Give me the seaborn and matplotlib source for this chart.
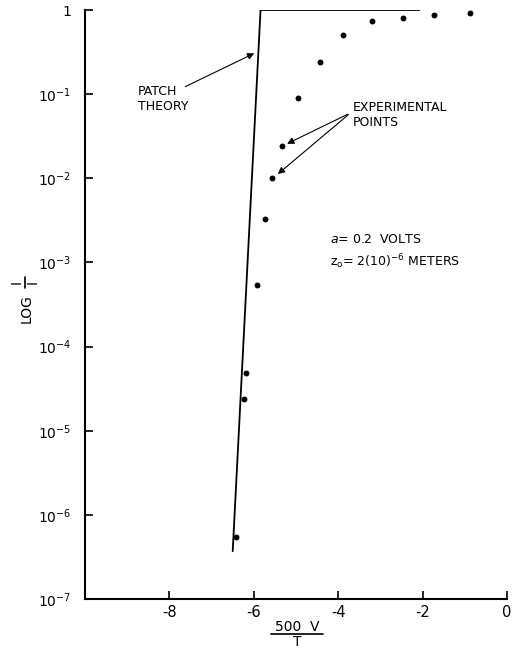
import matplotlib
matplotlib.use("Agg")
import matplotlib.pyplot as plt
from matplotlib.lines import Line2D
import seaborn as sns
import pandas as pd

# Experimental points
exp_x = [-0.87, -1.73, -2.46, -3.19, -3.88, -4.44, -4.96, -5.34, -5.56, -5.74, -5.93, -6.19, -6.24, -6.41]
exp_y = [0.93, 0.87, 0.81, 0.74, 0.50, 0.243, 0.090, 0.0243, 0.0101, 0.0033, 5.4e-4, 4.9e-5, 2.4e-5, 5.5e-7]

# Patch theory curve
theory_x = [-2.08, -5.84, -6.50]
theory_y = [1.0, 1.0, 3.7e-7]

x_ticks = [-8, -6, -4, -2, 0]
x_tick_labels = ["-8", "-6", "-4", "-2", "0"]
y_ticks = [1e-7, 1e-6, 1e-5, 1e-4, 1e-3, 1e-2, 1e-1, 1]
y_tick_labels = [r"$10^{-7}$", r"$10^{-6}$", r"$10^{-5}$", r"$10^{-4}$",
                 r"$10^{-3}$", r"$10^{-2}$", r"$10^{-1}$", "1"]

sns.set_theme(style="ticks")
plt.rcParams['font.family'] = ['DejaVu Sans']
plt.rcParams['mathtext.fontset'] = 'dejavusans'
plt.rcParams['text.color'] = 'black'
plt.rcParams['axes.labelcolor'] = 'black'

W, H = 517, 648
fig = plt.figure(figsize=(W/100, H/100), dpi=100)
ax = fig.add_axes([85/W, 1-599/H, (507-85)/W, (599-10)/H])

exp_df = pd.DataFrame({"x": exp_x, "y": exp_y})
th_df = pd.DataFrame({"x": theory_x, "y": theory_y})

sns.lineplot(data=th_df, x="x", y="y", sort=False, color="black", lw=1.3, ax=ax, estimator=None)
sns.scatterplot(data=exp_df, x="x", y="y", color="black", s=18, edgecolor="black", linewidth=0, ax=ax, zorder=3)

ax.set_yscale("log")
ax.set_xlim(-10, 0)
ax.set_ylim(1e-7, 1)
ax.set_xticks(x_ticks)
ax.set_xticklabels(x_tick_labels, fontsize=10.5)
ax.set_yticks(y_ticks)
ax.set_yticklabels(y_tick_labels, fontsize=10)
ax.yaxis.set_minor_locator(matplotlib.ticker.NullLocator())
ax.tick_params(axis="both", direction="in", length=6, width=1.2, colors="black", pad=4)
ax.tick_params(axis="y", pad=10)
for s in ["top", "right"]:
    ax.spines[s].set_visible(False)
for s in ["left", "bottom"]:
    ax.spines[s].set_linewidth(1.5)
    ax.spines[s].set_color("black")

ax.set_xlabel("")
ax.set_ylabel("")

# x label: 500 V over T
fig.text(297/W, 1-631/H, "500  V", ha="center", va="baseline", fontsize=10)
fig.add_artist(Line2D([271/W, 323/W], [1-634/H, 1-634/H], color="black", lw=1.2))
fig.text(297/W, 1-646/H, "T", ha="center", va="baseline", fontsize=10)

# y label: LOG I/I rotated
fig.text(27/W, 1-309/H, "LOG", ha="center", va="center", rotation=90, fontsize=10)
fig.text(17/W, 1-282/H, "I", ha="center", va="center", rotation=90, fontsize=10)
fig.text(33/W, 1-282/H, "I", ha="center", va="center", rotation=90, fontsize=10)
fig.add_artist(Line2D([25/W, 25/W], [1-277/H, 1-288/H], color="black", lw=1.2))

# Annotations
ax.annotate("", xy=(-5.93, 0.316), xytext=(-7.68, 0.119),
            arrowprops=dict(arrowstyle="-|>", color="black", lw=0.8, mutation_scale=10))
ax.text(-8.75, 0.13, "PATCH\nTHEORY", fontsize=9, ha="left", va="top", linespacing=1.2)

ax.annotate("", xy=(-5.27, 0.0249), xytext=(-3.71, 0.0598),
            arrowprops=dict(arrowstyle="-|>", color="black", lw=0.8, mutation_scale=10))
ax.annotate("", xy=(-5.48, 0.0107), xytext=(-3.71, 0.0598),
            arrowprops=dict(arrowstyle="-|>", color="black", lw=0.8, mutation_scale=10))
ax.text(-3.65, 0.083, "EXPERIMENTAL\nPOINTS", fontsize=9, ha="left", va="top", linespacing=1.2)

ax.text(-4.2, 10**(-(240-10)/84.2), r"$a$= 0.2  VOLTS", fontsize=9, ha="left", va="center")
ax.text(-4.2, 10**(-(262-10)/84.2), r"z$_{\mathrm{o}}$= 2(10)$^{-6}$ METERS", fontsize=9, ha="left", va="center")

fig.savefig("out.png", dpi=100)
